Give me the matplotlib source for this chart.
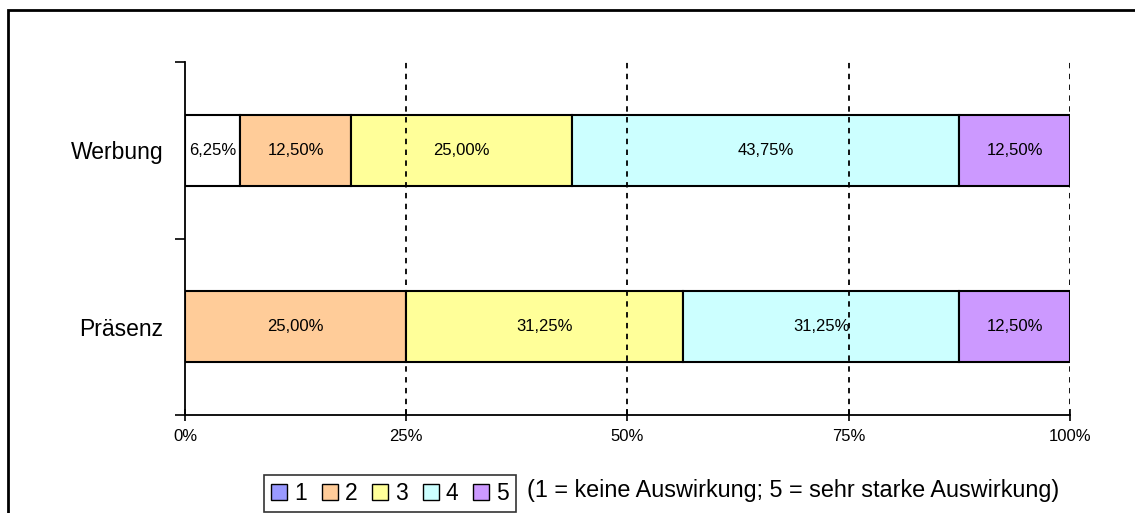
import matplotlib.pyplot as plt
from matplotlib.patches import Rectangle, Patch
import numpy as np

plt.rcParams['font.family'] = ['Liberation Sans', 'DejaVu Sans']

# Data
categories = ['Präsenz', 'Werbung']
levels = ['1', '2', '3', '4', '5']
values = {
    '1': [0.0, 6.25],
    '2': [25.0, 12.50],
    '3': [31.25, 25.00],
    '4': [31.25, 43.75],
    '5': [12.50, 12.50],
}
colors = ['#9999FF', '#FFCC99', '#FFFF99', '#CCFFFF', '#CC99FF']
note = '(1 = keine Auswirkung; 5 = sehr starke Auswirkung)'

fig = plt.figure(figsize=(11.35, 5.13), dpi=100)
ax = fig.add_axes([0.163, 0.191, 0.7797, 0.688])

# outer frame (only left/top visible in the reference)
fig.patches.append(Rectangle((8 / 1135, -0.05), 1.2, 1 - 10 / 513 + 0.05,
                             transform=fig.transFigure, fill=False,
                             edgecolor='black', linewidth=2))

ypos = np.array([0.5, 1.5])
left = np.zeros(len(categories))
for i, lev in enumerate(levels):
    vals = np.array(values[lev])
    fc = [colors[i]] * len(vals)
    if lev == '1':
        fc = ['white'] * len(vals)  # first segment shown unfilled in the original
    bars = ax.barh(ypos, vals, left=left, height=0.4, color=fc,
                   edgecolor='black', linewidth=1.5, zorder=3)
    for b, v in zip(bars, vals):
        if v > 0:
            ax.text(b.get_x() + b.get_width() / 2, b.get_y() + b.get_height() / 2,
                    ('%.2f%%' % v).replace('.', ','), ha='center', va='center',
                    fontsize=12, zorder=4)
    left += vals

ax.set_xlim(0, 100)
ax.set_ylim(0, 2)

ax.set_xticks([0, 25, 50, 75, 100])
ax.set_xticklabels(['0%', '25%', '50%', '75%', '100%'], fontsize=12)
ax.tick_params(axis='x', direction='inout', length=8, width=1.2, pad=6)

ax.set_yticks([0, 1, 2])
ax.set_yticklabels([])
ax.tick_params(axis='y', which='major', direction='out', length=7, width=1.2)
ax.set_yticks(ypos, minor=True)
ax.set_yticklabels(categories, minor=True, fontsize=16.5)
ax.tick_params(axis='y', which='minor', length=0, pad=15.5)

for x in [25, 50, 75, 100]:
    ax.axvline(x, color='black', linestyle=(0, (3, 3)), linewidth=1.3, zorder=5)

ax.spines['top'].set_visible(False)
ax.spines['right'].set_visible(False)
ax.spines['left'].set_linewidth(1.3)
ax.spines['bottom'].set_linewidth(1.3)

handles = [Patch(facecolor=c, edgecolor='black', linewidth=1) for c in colors]
leg = fig.legend(handles, levels, loc='lower left', bbox_to_anchor=(0.2317, 0.0),
                 ncol=5, fontsize=16.5, frameon=True, fancybox=False,
                 handlelength=0.7, handleheight=0.7, handletextpad=0.3,
                 columnspacing=0.65, borderpad=0.3, borderaxespad=0.05)
leg.get_frame().set_edgecolor('black')
leg.get_frame().set_linewidth(1.2)

fig.text(527 / 1135, 1 - 490 / 513, note, fontsize=16.8, ha='left', va='center')

fig.savefig('out.png', dpi=100)
